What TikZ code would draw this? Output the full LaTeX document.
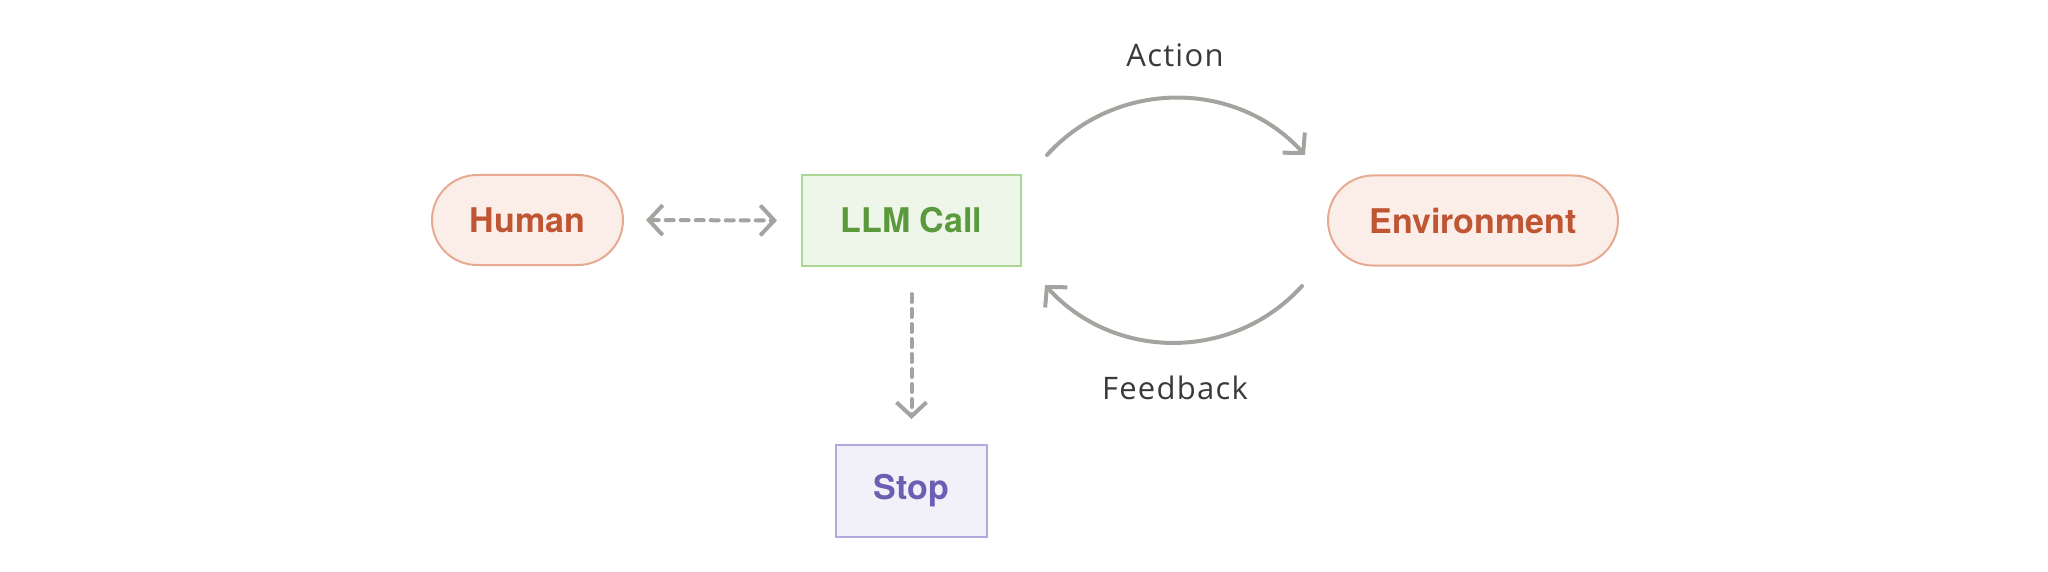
\documentclass[tikz,border=0pt]{standalone}
\usepackage{fontspec}
\setmainfont{TeX Gyre Heros}
\newfontfamily\labelfont{Open Sans}
\usetikzlibrary{arrows.meta}
\definecolor{humfill}{HTML}{FBEEE8}
\definecolor{humdraw}{HTML}{E6AA92}
\definecolor{humtext}{HTML}{BF5532}
\definecolor{llmfill}{HTML}{EEF6E9}
\definecolor{llmdraw}{HTML}{ABD794}
\definecolor{llmtext}{HTML}{5B9A3C}
\definecolor{stopfill}{HTML}{F2F0F8}
\definecolor{stopdraw}{HTML}{B3A9E0}
\definecolor{stoptext}{HTML}{6A5FB2}
\definecolor{arrowgray}{HTML}{A3A39F}
\definecolor{labelgray}{HTML}{3A3A3A}
\tikzset{
  boxfont/.style={font=\fontsize{17}{20}\selectfont\bfseries},
  pill/.style={draw=humdraw, fill=humfill, line width=1pt, rounded corners=22.5pt,
    minimum height=45pt, text=humtext, boxfont, inner sep=0pt},
  llmbox/.style={draw=llmdraw, fill=llmfill, line width=1pt, minimum width=109.5pt,
    minimum height=45.5pt, text=llmtext, boxfont, inner sep=0pt},
  stopbox/.style={draw=stopdraw, fill=stopfill, line width=1pt, minimum width=75.5pt,
    minimum height=46pt, text=stoptext, boxfont, inner sep=0pt},
  edgelabel/.style={text=labelgray, font=\labelfont\fontsize{15.5}{18}\selectfont\addfontfeature{LetterSpace=4}, inner sep=0pt},
  barb/.tip={Straight Barb[length=7pt,width=15pt,line width=2pt]},
  conn/.style={draw=arrowgray, line width=2pt, line cap=round, -barb},
  dashconn/.style={conn, dash pattern=on 4pt off 3.5pt},
}
\begin{document}
\begin{tikzpicture}[x=0.5pt,y=-0.5pt]
\useasboundingbox (0,0) rectangle (2048,572);
\node[pill, minimum width=95.5pt] (human) at (527.5,220) {Human};
\node[llmbox] (llm) at (911.5,220.5) {LLM Call};
\node[pill, minimum width=145pt] (env) at (1473,220.5) {Environment};
\node[stopbox] (stop) at (911.5,491) {Stop};
\node[edgelabel] (action) at (1175,55) {Action};
\node[edgelabel] (feedback) at (1175,388) {Feedback};
\coordinate (a1) at (1047,155);
\coordinate (a2) at (1305,155);
\coordinate (f1) at (1302,286);
\coordinate (f2) at (1045,285);
\draw[dashconn, barb-barb, shorten <=11pt, shorten >=12pt] (human.east) -- (llm.west);
\draw[dashconn, shorten <=13.5pt, shorten >=12.5pt] (llm.south) -- (stop.north);
\draw[conn] (a1) .. controls (1116,79) and (1236,79) .. (a2);
\draw[conn] (f1) .. controls (1233,362) and (1114,361) .. (f2);
\end{tikzpicture}
\end{document}
